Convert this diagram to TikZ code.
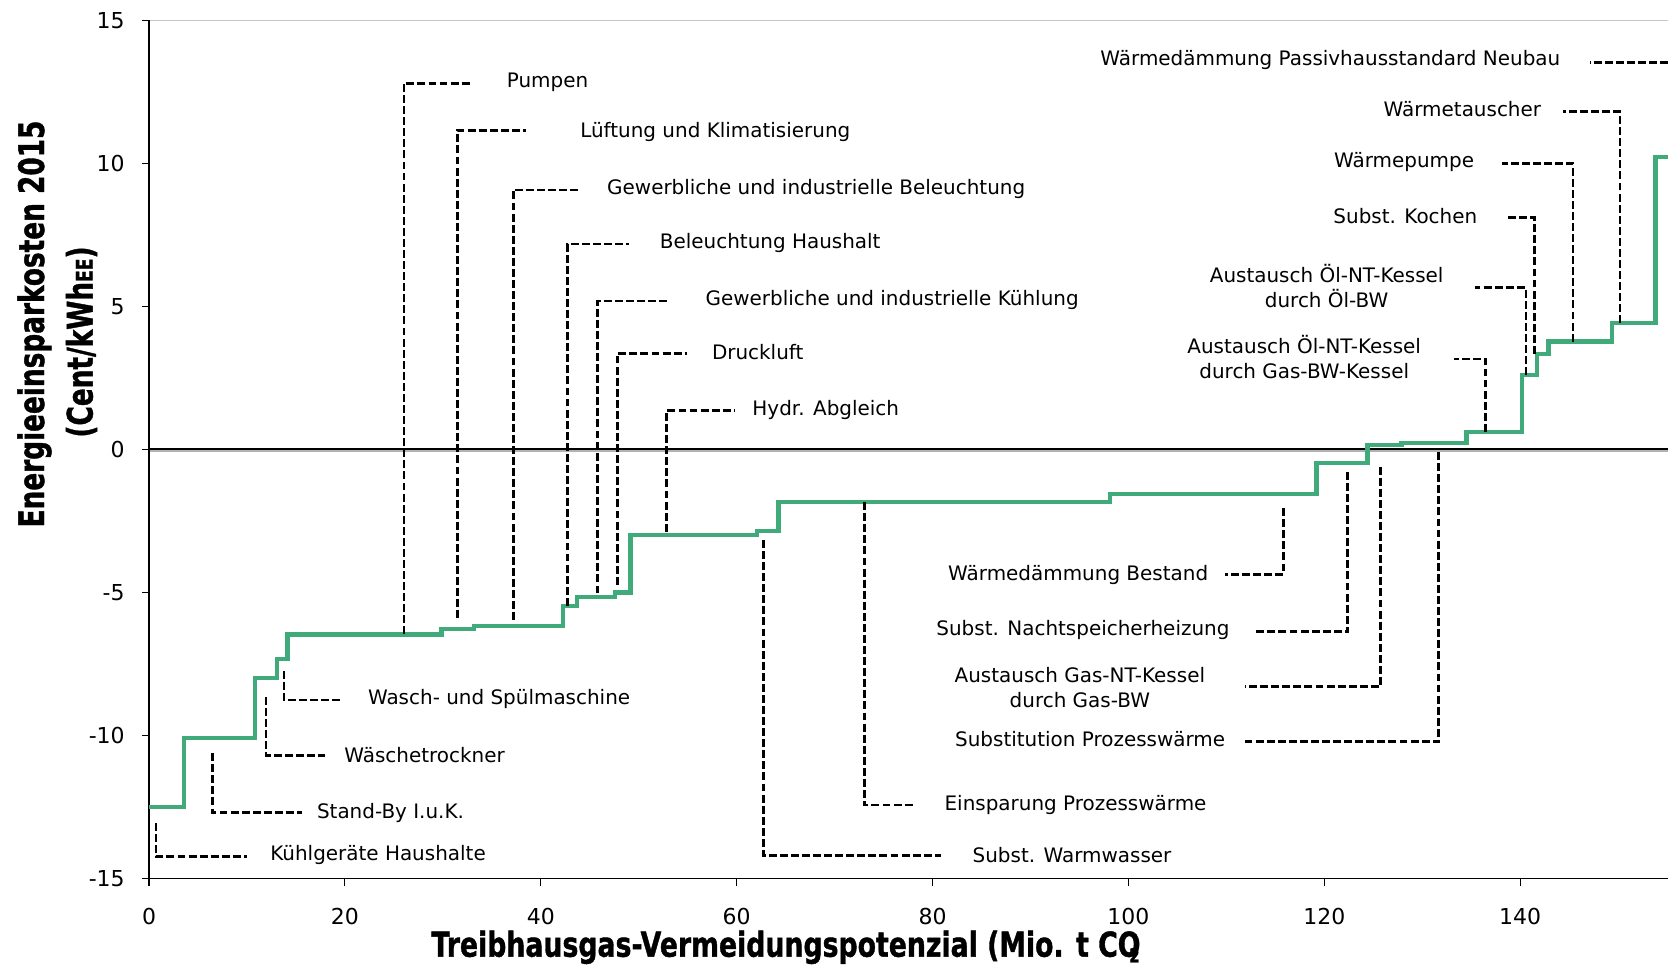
\documentclass[tikz,border=0pt]{standalone}
\usepackage{fontspec}
\usepackage{graphicx}
\setmainfont{DejaVu Sans}
\newfontfamily\heavyfont{DejaVu Sans}[FakeBold=1.3]
\definecolor{curvegreen}{RGB}{64,170,122}
\begin{document}
\begin{tikzpicture}[x=0.19588cm,y=0.5724cm,
  lbl/.style={font=\fontsize{11.35}{14.5}\selectfont, inner sep=0pt},
  ticklbl/.style={font=\fontsize{12.5}{14}\selectfont, inner sep=0pt},
  leader/.style={black, line width=1.6pt, dash pattern=on 4.5pt off 1.8pt},
  axisline/.style={black, line width=0.7pt},
  costcurve/.style={curvegreen, line width=2.5pt, line join=miter}]
\useasboundingbox (-15.213,-18.222) rectangle (155.095,15.706);

% frame / axes
\draw[gray!45, line width=0.6pt] (0,15) -- (155.095,15);
\draw[gray!60, line width=1pt] (0,-0.05) -- (155.095,-0.05);
\draw[black, line width=1.1pt] (0,0.03) -- (155.095,0.03);
\draw[axisline] (0,15) -- (0,-15) -- (155.095,-15);
\foreach \v in {15,10,5,0,-5,-10,-15}{
  \draw[axisline] (0,\v) -- (-0.72,\v);
  \node[ticklbl, anchor=east] (yt\v) at (-2.45,\v) {\v};
}
\foreach \v in {0,20,...,140}{
  \draw[axisline] (\v,-15) -- (\v,-15.25);
  \node[ticklbl] (xt\v) at (\v,-16.33) {\v};
}

% axis titles
\node[rotate=90, anchor=base, inner sep=0pt] (ytitle1) at (-10.72,4.385)
  {\scalebox{0.75}[1]{\fontsize{20}{24}\heavyfont\bfseries Energieeinsparkosten 2015}};
\node[rotate=90, anchor=base, inner sep=0pt] (ytitle2) at (-5.76,3.756)
  {\scalebox{0.75}[1]{\fontsize{20}{24}\heavyfont\bfseries (Cent/kWh{\fontsize{13}{14}\selectfont EE})}};
\node[anchor=base, inner sep=0pt] (xtitle) at (65.0,-17.72)
  {\scalebox{0.78}[1]{\fontsize{19.5}{22}\heavyfont\bfseries Treibhausgas-Vermeidungspotenzial (Mio. t CO\kern-0.42em\raisebox{-0.3ex}{\fontsize{11}{12}\selectfont 2}}};

% cost curve
\draw[costcurve] (0,-12.49) -| (3.57,-10.08) -| (10.82,-7.99) -| (13.1,-7.32)
  -| (14.16,-6.46) -| (29.85,-6.28) -| (33.18,-6.17) -| (42.27,-5.46)
  -| (43.73,-5.16) -| (47.58,-5.00) -| (49.18,-2.99) -| (62.05,-2.84)
  -| (64.26,-1.84) -| (98.1,-1.55) -| (119.2,-0.48) -| (124.4,0.15)
  -| (127.9,0.22) -| (134.5,0.62) -| (140.2,2.60) -| (141.7,3.34)
  -| (142.9,3.77) -| (149.35,4.41) -| (153.8,10.23) -- (155.095,10.23);

% leader lines
\foreach \n/\x/\ya/\yb/\xh in {
  kuehl/0.71/-13.05/-14.23/10.04,
  standby/6.47/-10.61/-12.68/15.59,
  trockner/11.95/-8.64/-10.68/17.97,
  wasch/13.78/-7.73/-8.75/19.67,
  pumpen/26.04/-6.46/12.80/33.05,
  lueft/31.52/-5.90/11.16/38.49,
  gbel/37.2/-5.96/9.07/43.87,
  hbel/42.71/-5.46/7.18/48.98,
  gkuehl/45.77/-5.03/5.19/53.1,
  druck/47.82/-4.73/3.36/54.95,
  hydr/52.86/-2.87/1.36/59.85,
  warmw/62.73/-3.16/-14.19/80.83,
  einsp/73.03/-1.84/-12.42/78.28,
  bestand/115.8/-2.05/-4.37/109.9,
  nacht/122.4/-0.78/-6.37/112.9,
  gasnt/125.7/-0.60/-8.29/111.9,
  subpw/131.7/-0.09/-10.21/111.9,
  oelgas/136.5/0.62/3.16/133.2,
  oeloel/140.6/2.60/5.65/135.4,
  kochen/141.45/3.34/8.11/138.6,
  wpumpe/145.4/3.77/10.0/138.1,
  wtausch/150.2/4.41/11.80/144.4}{
  \coordinate (\n-a) at (\x,\ya);
  \coordinate (\n-b) at (\x,\yb);
  \coordinate (\n-c) at (\xh,\yb);
  \draw[leader] (\n-a) -- (\n-b) -- (\n-c);
}
\coordinate (passiv-a) at (155.095,13.53);
\coordinate (passiv-c) at (147.1,13.53);
\draw[leader] (passiv-a) -- (passiv-c);

% labels (left anchored)
\node[lbl, anchor=west] (l-pumpen) at (36.5,12.84) {Pumpen};
\node[lbl, anchor=west] (l-lueft) at (44.0,11.10) {Lüftung und Klimatisierung};
\node[lbl, anchor=west] (l-gbel) at (46.75,9.09) {Gewerbliche und industrielle Beleuchtung};
\node[lbl, anchor=west] (l-hbel) at (52.13,7.23) {Beleuchtung Haushalt};
\node[lbl, anchor=west] (l-gkuehl) at (56.8,5.22) {Gewerbliche und industrielle Kühlung};
\node[lbl, anchor=west] (l-druck) at (57.45,3.40) {Druckluft};
\node[lbl, anchor=west] (l-hydr) at (61.58,1.39) {Hydr. Abgleich};
\node[lbl, anchor=west] (l-wasch) at (22.33,-8.71) {Wasch- und Spülmaschine};
\node[lbl, anchor=west] (l-trockner) at (19.91,-10.68) {Wäschetrockner};
\node[lbl, anchor=west] (l-standby) at (17.12,-12.69) {Stand-By I.u.K.};
\node[lbl, anchor=west] (l-kuehl) at (12.35,-14.18) {Kühlgeräte Haushalte};
\node[lbl, anchor=west] (l-warmw) at (84.06,-14.18) {Subst. Warmwasser};
\node[lbl, anchor=west] (l-einsp) at (81.2,-12.43) {Einsparung Prozesswärme};

% labels (right anchored / centred)
\node[lbl, anchor=east] (l-passiv) at (144.13,13.62) {Wärmedämmung Passivhausstandard Neubau};
\node[lbl, anchor=east] (l-wtausch) at (142.17,11.88) {Wärmetauscher};
\node[lbl, anchor=east] (l-wpumpe) at (135.33,10.06) {Wärmepumpe};
\node[lbl, anchor=east] (l-kochen) at (135.65,8.16) {Subst. Kochen};
\node[lbl, align=center] (l-oeloel) at (120.24,5.71) {Austausch Öl-NT-Kessel\\durch Öl-BW};
\node[lbl, align=center] (l-oelgas) at (117.95,3.24) {Austausch Öl-NT-Kessel\\durch Gas-BW-Kessel};
\node[lbl, anchor=east] (l-bestand) at (108.18,-4.37) {Wärmedämmung Bestand};
\node[lbl, anchor=east] (l-nacht) at (110.35,-6.30) {Subst. Nachtspeicherheizung};
\node[lbl, align=center] (l-gasnt) at (95.04,-8.31) {Austausch Gas-NT-Kessel\\durch Gas-BW};
\node[lbl, anchor=east] (l-subpw) at (109.91,-10.13) {Substitution Prozesswärme};
\end{tikzpicture}
\end{document}
